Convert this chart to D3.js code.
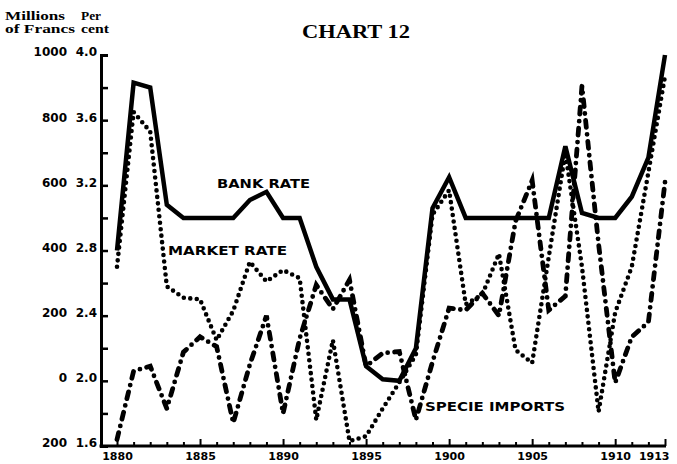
<!DOCTYPE html>
<html>
<head>
<meta charset="utf-8">
<script src="https://cdn.jsdelivr.net/npm/d3@7"></script>
<style>
  body { margin: 0; background: #fff; }
  svg { display: block; }
  .ax text { font-family: "DejaVu Sans", sans-serif; font-weight: bold; fill: #000; }
</style>
</head>
<body>
<div id="mydiv"></div>
<script>
// values, one per year 1880..1913
const years = [1880, 1881, 1882, 1883, 1884, 1885, 1886, 1887, 1888, 1889,
  1890, 1891, 1892, 1893, 1894, 1895, 1896, 1897, 1898, 1899,
  1900, 1901, 1902, 1903, 1904, 1905, 1906, 1907, 1908, 1909,
  1910, 1911, 1912, 1913];

// per cent
const bankRate = [2.8, 3.83, 3.8, 3.08, 3.0, 3.0, 3.0, 3.0, 3.11, 3.16,
  3.0, 3.0, 2.70, 2.50, 2.50, 2.09, 2.01, 2.0, 2.2, 3.06,
  3.25, 3.0, 3.0, 3.0, 3.0, 3.0, 3.0, 3.44, 3.03, 3.0,
  3.0, 3.13, 3.37, 4.0];

const marketRate = [2.70, 3.65, 3.53, 2.58, 2.51, 2.50, 2.25, 2.43, 2.73, 2.61,
  2.68, 2.63, 1.76, 2.25, 1.63, 1.66, 1.83, 1.99, 2.16, 3.02,
  3.17, 2.47, 2.53, 2.78, 2.19, 2.11, 2.76, 3.40, 2.70, 1.81,
  2.42, 2.70, 3.28, 3.87];

// millions of francs
const specieImports = [-180, 30, 45, -85, 88, 135, 105, -129, 50, 200,
  -100, 130, 294, 220, 310, 45, 85, 90, -120, 58,
  223, 217, 269, 200, 490, 615, 217, 260, 905, 420,
  -6, 135, 180, 610];

const pctTicks = [1.6, 2.0, 2.4, 2.8, 3.2, 3.6, 4.0];
const pctMinorTicks = [1.6, 1.8, 2.0, 2.2, 2.4, 2.6, 2.8, 3.0, 3.2, 3.4, 3.6, 3.8, 4.0];
const milTicks = [-200, 0, 200, 400, 600, 800, 1000];
const yearLabels = [1880, 1885, 1890, 1895, 1900, 1905, 1910, 1913];

const W = 677, H = 464;
const axX = 101, axY = 446;

const svg = d3.select("#mydiv")
  .append("svg")
  .attr("width", W)
  .attr("height", H)
  .style("background-color", "#fff");

const x = d3.scaleLinear().domain([1880, 1913]).range([117, 665]);
const yPct = d3.scaleLinear().domain([1.6, 4.0]).range([axY, 55]);
const yMil = d3.scaleLinear().domain([-200, 1000]).range([axY, 55]);

// title + unit headings
svg.append("text")
  .attr("x", 356).attr("y", 38)
  .attr("text-anchor", "middle")
  .style("font-family", "Liberation Serif, serif")
  .style("font-weight", "bold")
  .style("font-size", "18px")
  .attr("textLength", 108).attr("lengthAdjust", "spacingAndGlyphs")
  .text("CHART 12");

const heads = [
  {t: "Millions", x: 5, y: 20, w: 60},
  {t: "of Francs", x: 5, y: 33, w: 70},
  {t: "Per", x: 81, y: 20, w: 20},
  {t: "cent", x: 81, y: 33, w: 28}
];
svg.selectAll(".head").data(heads).enter()
  .append("text")
  .attr("class", "head")
  .attr("x", d => d.x).attr("y", d => d.y)
  .attr("textLength", d => d.w).attr("lengthAdjust", "spacingAndGlyphs")
  .style("font-family", "Liberation Serif, serif")
  .style("font-weight", "bold")
  .style("font-size", "11.5px")
  .text(d => d.t);

// left axis: ticks point inward
const gy = svg.append("g").attr("class", "ax")
  .attr("transform", `translate(${axX},0)`)
  .call(d3.axisLeft(yPct).tickValues(pctMinorTicks).tickSize(-7).tickFormat(""));
gy.select(".domain").attr("stroke-width", 3);
gy.selectAll(".tick line").attr("stroke-width", 2.5);

const gyPct = svg.append("g").attr("class", "ax")
  .attr("transform", `translate(${axX - 4},-3)`)
  .call(d3.axisLeft(yPct).tickValues(pctTicks).tickSize(0).tickPadding(0)
    .tickFormat(d3.format(".1f")));
gyPct.select(".domain").remove();
gyPct.selectAll("text").style("font-size", "12px");

const gyMil = svg.append("g").attr("class", "ax")
  .attr("transform", `translate(67,-3)`)
  .call(d3.axisLeft(yMil).tickValues(milTicks).tickSize(0).tickPadding(0)
    .tickFormat(d => Math.abs(d)));
gyMil.select(".domain").remove();
gyMil.selectAll("text").style("font-size", "12px");

// bottom axis
svg.append("line")
  .attr("x1", axX - 1.5).attr("x2", 666)
  .attr("y1", axY).attr("y2", axY)
  .attr("stroke", "#000").attr("stroke-width", 3);

const gx = svg.append("g").attr("class", "ax")
  .attr("transform", `translate(0,${axY})`)
  .call(d3.axisBottom(x).tickValues(years).tickSize(-4).tickFormat(""));
gx.select(".domain").remove();
gx.selectAll(".tick line").attr("stroke-width", 2)
  .filter(d => d % 5 === 0 || d === 1913).attr("y2", -7);

const gxl = svg.append("g").attr("class", "ax")
  .attr("transform", `translate(0,${axY + 2})`)
  .call(d3.axisBottom(x).tickValues(yearLabels).tickSize(0).tickPadding(4)
    .tickFormat(d3.format("d")));
gxl.select(".domain").remove();
gxl.selectAll("text").style("font-size", "11px");
// last label sits against the right edge, as in the print
gxl.selectAll(".tick").filter(d => d === 1913).select("text")
  .attr("text-anchor", "end").attr("x", 4);

// series
const line = (yS) => d3.line().x((d, i) => x(years[i])).y(d => yS(d));

svg.append("path")
  .datum(specieImports)
  .attr("d", line(yMil))
  .attr("fill", "none").attr("stroke", "#000")
  .attr("stroke-width", 4.8)
  .attr("stroke-linecap", "round")
  .attr("stroke-dasharray", "7 7 0 7");

svg.append("path")
  .datum(marketRate)
  .attr("d", line(yPct))
  .attr("fill", "none").attr("stroke", "#000")
  .attr("stroke-width", 4.6)
  .attr("stroke-linecap", "round")
  .attr("stroke-dasharray", "0 6.5");

svg.append("path")
  .datum(bankRate)
  .attr("d", line(yPct))
  .attr("fill", "none").attr("stroke", "#000")
  .attr("stroke-width", 4.5)
  .attr("stroke-linejoin", "miter");

// series labels
const labels = [
  {t: "BANK RATE", x: 217, y: 188, w: 93},
  {t: "MARKET RATE", x: 168, y: 255, w: 119},
  {t: "SPECIE IMPORTS", x: 425, y: 411, w: 140}
];
svg.selectAll(".lab").data(labels).enter()
  .append("text")
  .attr("class", "lab")
  .attr("x", d => d.x).attr("y", d => d.y)
  .attr("textLength", d => d.w).attr("lengthAdjust", "spacingAndGlyphs")
  .style("font-family", "DejaVu Sans, sans-serif")
  .style("font-weight", "bold")
  .style("font-size", "12px")
  .text(d => d.t);
</script>
</body>
</html>
